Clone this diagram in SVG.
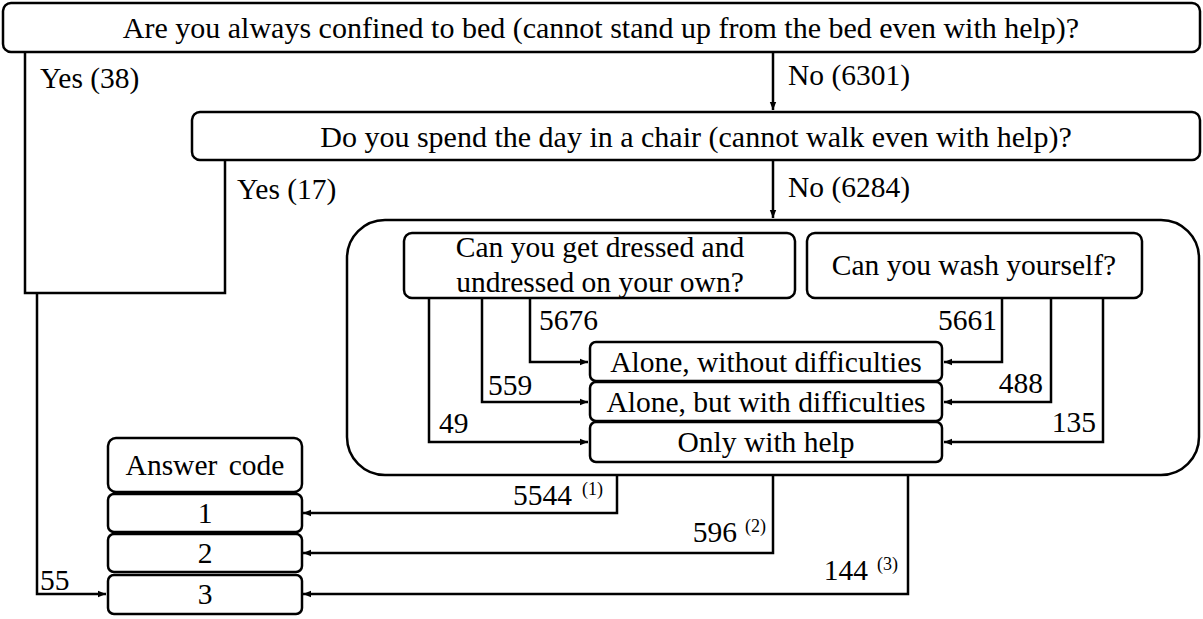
<svg xmlns="http://www.w3.org/2000/svg" width="1203" height="619" viewBox="0 0 1203 619" font-family="Liberation Serif, Times New Roman, serif">
<defs>
<marker id="arr" markerUnits="userSpaceOnUse" markerWidth="9" markerHeight="8" refX="8" refY="4" orient="auto">
<path d="M0,0.8 L8,4 L0,7.2 Z" fill="#000"/>
</marker>
<style>
.box{fill:#fff;stroke:#000;stroke-width:2.5}
.cn{fill:none;stroke:#000;stroke-width:2.5}
text{fill:#000;font-size:29.5px}
.q{font-size:30px}
.c{text-anchor:middle}
.e{text-anchor:end}
.sup{font-size:18px}
.ws{word-spacing:4px}
</style>
</defs>
<rect width="1203" height="619" fill="#fff"/>
<g id="container">
<rect class="box" x="347" y="220" width="852" height="255" rx="38"/>
</g>
<g id="connectors">
<path class="cn" d="M25,52 V293 H225 V160"/>
<path class="cn" d="M37,293 V594 H106" marker-end="url(#arr)"/>
<path class="cn" d="M773,52 V110" marker-end="url(#arr)"/>
<path class="cn" d="M773,160 V218" marker-end="url(#arr)"/>
<path class="cn" d="M530,298 V362 H588" marker-end="url(#arr)"/>
<path class="cn" d="M482,298 V402 H588" marker-end="url(#arr)"/>
<path class="cn" d="M429,298 V442 H588" marker-end="url(#arr)"/>
<path class="cn" d="M1002,298 V362 H944" marker-end="url(#arr)"/>
<path class="cn" d="M1051,298 V402 H944" marker-end="url(#arr)"/>
<path class="cn" d="M1103,298 V442 H944" marker-end="url(#arr)"/>
<path class="cn" d="M617,475 V513 H303" marker-end="url(#arr)"/>
<path class="cn" d="M773,475 V553 H303" marker-end="url(#arr)"/>
<path class="cn" d="M908,475 V594 H303" marker-end="url(#arr)"/>
</g>
<g id="q1">
<rect class="box" x="3" y="3" width="1197" height="49" rx="8"/>
<text class="q c" x="601" y="38">Are you always confined to bed (cannot stand up from the bed even with help)?</text>
</g>
<g id="q2">
<rect class="box" x="192" y="112" width="1008" height="48" rx="8"/>
<text class="q c" x="696" y="147">Do you spend the day in a chair (cannot walk even with help)?</text>
</g>
<g id="q3">
<rect class="box" x="404" y="233" width="391" height="65" rx="8"/>
<text class="c" x="600" y="257">Can you get dressed and</text>
<text class="c" x="600" y="292">undressed on your own?</text>
</g>
<g id="q4">
<rect class="box" x="807" y="233" width="335" height="65" rx="8"/>
<text class="c" x="974" y="275">Can you wash yourself?</text>
</g>
<g id="a1">
<rect class="box" x="590" y="342" width="352" height="39" rx="6"/>
<text class="c" x="766" y="372">Alone, without difficulties</text>
</g>
<g id="a2">
<rect class="box" x="590" y="382" width="352" height="39" rx="6"/>
<text class="c" x="766" y="412">Alone, but with difficulties</text>
</g>
<g id="a3">
<rect class="box" x="590" y="422" width="352" height="40" rx="6"/>
<text class="c" x="766" y="452">Only with help</text>
</g>
<g id="code-head">
<rect class="box" x="108" y="438" width="194" height="54" rx="8"/>
<text class="c ws" x="205" y="475">Answer code</text>
</g>
<g id="code1">
<rect class="box" x="108" y="494" width="194" height="38" rx="6"/>
<text class="c" x="205" y="523">1</text>
</g>
<g id="code2">
<rect class="box" x="108" y="534" width="194" height="38" rx="6"/>
<text class="c" x="205" y="563">2</text>
</g>
<g id="code3">
<rect class="box" x="108" y="575" width="194" height="39" rx="6"/>
<text class="c" x="205" y="604">3</text>
</g>
<g id="labels">
<text x="40" y="88">Yes (38)</text>
<text x="788" y="85">No (6301)</text>
<text x="237" y="199">Yes (17)</text>
<text x="788" y="197">No (6284)</text>
<text x="539" y="330">5676</text>
<text x="488" y="395">559</text>
<text x="439" y="433">49</text>
<text class="e" x="997" y="330">5661</text>
<text class="e" x="1043" y="393">488</text>
<text class="e" x="1096" y="432">135</text>
<text class="e" x="572" y="505">5544</text>
<text class="sup" x="582" y="495">(1)</text>
<text class="e" x="737" y="542">596</text>
<text class="sup" x="745" y="532">(2)</text>
<text class="e" x="868" y="580">144</text>
<text class="sup" x="877" y="570">(3)</text>
<text x="40" y="590">55</text>
</g>
</svg>
